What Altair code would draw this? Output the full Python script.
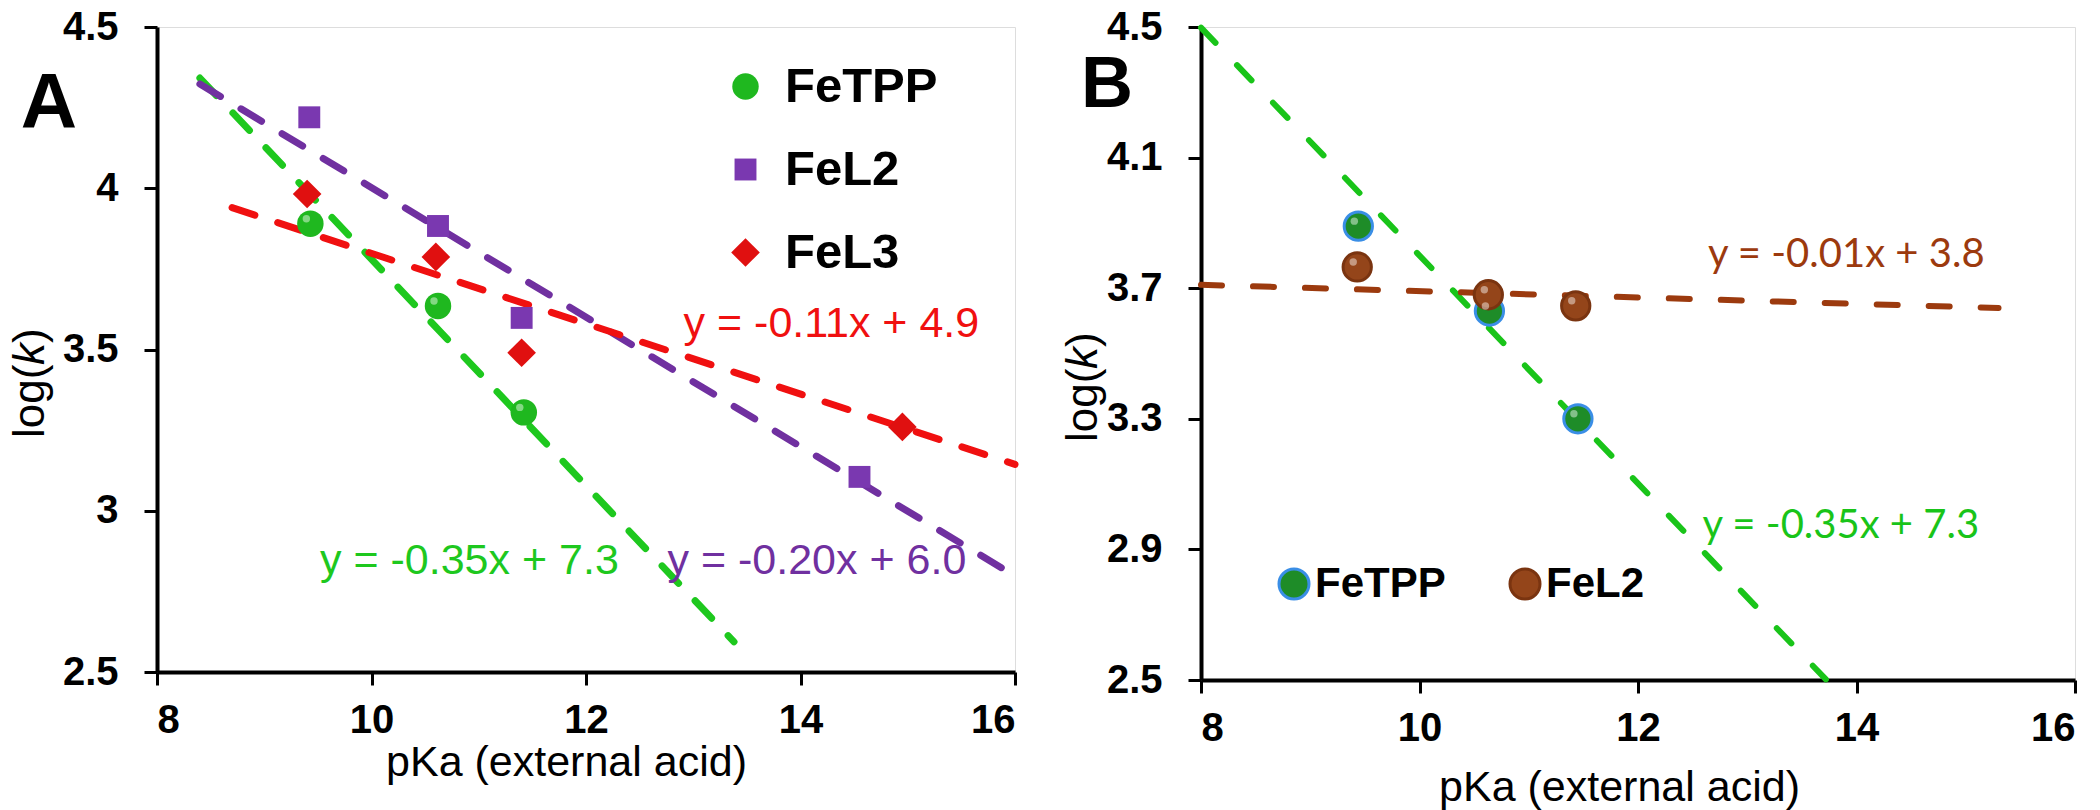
import altair as alt
import pandas as pd

# ---------------- Panel A data ----------------
a_series = ["FeTPP", "FeL2", "FeL3"]

fetpp_pka_a = [9.43, 10.62, 11.42]
fetpp_logk_a = [3.89, 3.635, 3.305]
fel2_pka_a = [9.42, 10.62, 11.40, 14.55]
fel2_logk_a = [4.22, 3.883, 3.598, 3.105]
fel3_pka_a = [9.40, 10.60, 11.40, 14.95]
fel3_logk_a = [3.982, 3.787, 3.49, 3.26]

# trend lines (slope, intercept, x range)
a_slope = [-0.351, -0.2007, -0.109]
a_intercept = [7.29, 6.009, 4.888]
a_from = [8.40, 8.40, 8.70]
a_to = [13.38, 15.95, 16.0]

a_eq_text = ["y = -0.35x + 7.3", "y = -0.20x + 6.0", "y = -0.11x + 4.9"]
a_eq_pka = [9.52, 12.76, 12.91]
a_eq_logk = [2.804, 2.804, 3.539]

# ---------------- Panel B data ----------------
b_series = ["FeTPP", "FeL2"]

fetpp_pka_b = [9.44, 10.64, 11.45]
fetpp_logk_b = [3.89, 3.63, 3.30]
fel2_pka_b = [9.43, 10.63, 11.43]
fel2_logk_b = [3.765, 3.68, 3.646]

b_slope = [-0.349, -0.0097]
b_intercept = [7.29, 3.788]
b_from = [8.0, 8.0]
b_to = [13.72, 15.3]

b_eq_text = ["y = -0.35x + 7.3", "y = -0.01x + 3.8"]
b_eq_pka = [12.59, 12.64]
b_eq_logk = [2.935, 3.765]

# ---------------- tables ----------------
pts_a = pd.concat([
    pd.DataFrame({"series": "FeTPP", "pKa": fetpp_pka_a, "logk": fetpp_logk_a}),
    pd.DataFrame({"series": "FeL2", "pKa": fel2_pka_a, "logk": fel2_logk_a}),
    pd.DataFrame({"series": "FeL3", "pKa": fel3_pka_a, "logk": fel3_logk_a}),
])
fits_a = pd.DataFrame({"series": a_series, "m": a_slope, "b": a_intercept,
                       "x1": a_from, "x2": a_to})
eq_a = pd.DataFrame({"series": a_series, "text": a_eq_text,
                     "pKa": a_eq_pka, "logk": a_eq_logk})

pts_b = pd.concat([
    pd.DataFrame({"series": "FeTPP", "pKa": fetpp_pka_b, "logk": fetpp_logk_b}),
    pd.DataFrame({"series": "FeL2", "pKa": fel2_pka_b, "logk": fel2_logk_b}),
])
fits_b = pd.DataFrame({"series": b_series, "m": b_slope, "b": b_intercept,
                       "x1": b_from, "x2": b_to})
eq_b = pd.DataFrame({"series": b_series, "text": b_eq_text,
                     "pKa": b_eq_pka, "logk": b_eq_logk})

ARIAL = "Liberation Sans"


def x_axis(title_x, title_y):
    return alt.Axis(values=[8, 10, 12, 14, 16], format="d", grid=False,
                    domainColor="black", domainWidth=4, tickColor="black",
                    tickWidth=3, tickSize=13, labelFont=ARIAL, labelFontWeight="bold",
                    labelFontSize=40, labelColor="black", labelPadding=15,
                    title="pKa (external acid)", titleFont=ARIAL,
                    titleFontWeight="normal", titleFontSize=43, titleColor="black",
                    titleX=title_x, titleY=title_y, titleBaseline="alphabetic")


def y_axis(values, fmt):
    return alt.Axis(values=values, format=fmt, grid=False, domainColor="black",
                    domainWidth=4, tickColor="black", tickWidth=3, tickSize=13,
                    labelFont=ARIAL, labelFontWeight="bold", labelFontSize=40,
                    labelColor="black", labelPadding=26, title=None)


def ylabel(left, bottom):
    # log(k) with italic k, written bottom-to-top
    parts = []
    for txt, off, style in [("log(", 0, "normal"), ("k", 73, "italic"), (")", 95, "normal")]:
        parts.append(
            alt.Chart(pd.DataFrame({"t": [txt]})).mark_text(
                font=ARIAL, fontSize=44, fontStyle=style, angle=270,
                align="left", baseline="middle", color="black"
            ).encode(text="t:N", x=alt.value(left), y=alt.value(bottom - off))
        )
    return parts


def letter(txt, x, y, size):
    return alt.Chart(pd.DataFrame({"t": [txt]})).mark_text(
        font=ARIAL, fontSize=size, fontWeight="bold", align="center",
        baseline="alphabetic", color="black"
    ).encode(text="t:N", x=alt.value(x), y=alt.value(y))


def fit_layers(fits, eqs, series, colors, xs, ys, xaxis, yaxis, width, dash, font, fsize):
    layers = []
    for s, col in zip(series, colors):
        layers.append(
            alt.Chart(fits).transform_filter(alt.datum.series == s).transform_calculate(
                y1="datum.m * datum.x1 + datum.b", y2="datum.m * datum.x2 + datum.b"
            ).mark_rule(strokeWidth=width, strokeDash=dash, strokeCap="round",
                        color=col).encode(
                x=alt.X("x1:Q", scale=xs, axis=xaxis),
                x2="x2:Q",
                y=alt.Y("y1:Q", scale=ys, axis=yaxis),
                y2="y2:Q",
            )
        )
    for s, col in zip(series, colors):
        layers.append(
            alt.Chart(eqs).transform_filter(alt.datum.series == s).mark_text(
                font=font, fontSize=fsize, align="left", baseline="alphabetic",
                color=col
            ).encode(x=alt.X("pKa:Q", scale=xs), y=alt.Y("logk:Q", scale=ys),
                     text="text:N")
        )
    return layers


def shine(data, keep, xs, ys):
    # small light spot that gives the round markers a sphere look
    return alt.Chart(data).transform_filter(
        alt.FieldOneOfPredicate(field="series", oneOf=keep)
    ).mark_point(filled=True, shape="circle", size=55, color="white", opacity=0.45,
                 xOffset=-4, yOffset=-5).encode(
        x=alt.X("pKa:Q", scale=xs), y=alt.Y("logk:Q", scale=ys)
    )


# ---------------- Panel A ----------------
xa = alt.Scale(domain=[8, 16], nice=False, zero=False)
ya = alt.Scale(domain=[2.5, 4.5], nice=False, zero=False)

leg_a = alt.Legend(orient="none", legendX=564, legendY=35, title=None,
                   direction="vertical", padding=0,
                   labelFont=ARIAL, labelFontWeight="bold",
                   labelFontSize=49, labelColor="black",
                   labelOffset=15, rowPadding=33, symbolStrokeWidth=0)

pts_a_chart = alt.Chart(pts_a).mark_point(filled=True, opacity=1).encode(
    x=alt.X("pKa:Q", scale=xa),
    y=alt.Y("logk:Q", scale=ya),
    fill=alt.Fill("series:N",
                  scale=alt.Scale(domain=a_series, range=["#1fb81f", "#7a38b0", "#e01010"]),
                  legend=leg_a),
    shape=alt.Shape("series:N",
                    scale=alt.Scale(domain=a_series, range=["circle", "square", "diamond"]),
                    legend=leg_a),
    size=alt.Size("series:N",
                  scale=alt.Scale(type="ordinal", domain=a_series, range=[700, 480, 820]),
                  legend=leg_a),
)

chart_a = alt.layer(
    *fit_layers(fits_a, eq_a, a_series, ["#1ec81e", "#7030a0", "#f01010"], xa, ya,
                x_axis(409, 103), y_axis([2.5, 3, 3.5, 4, 4.5], "~g"),
                7, [24, 24], ARIAL, 43),
    pts_a_chart,
    shine(pts_a, ["FeTPP"], xa, ya),
    *ylabel(-126, 411),
    letter("A", -108, 101, 78),
).properties(width=858, height=645)

# ---------------- Panel B ----------------
xb = alt.Scale(domain=[8, 16], nice=False, zero=False)
yb = alt.Scale(domain=[2.5, 4.5], nice=False, zero=False)

leg_b = alt.Legend(orient="none", legendX=72, legendY=536, title=None,
                   direction="horizontal", columns=2, padding=0,
                   labelFont=ARIAL, labelFontWeight="bold", labelFontSize=42,
                   labelColor="black", labelOffset=0, columnPadding=58,
                   symbolSize=900, symbolStrokeWidth=3)

pts_b_chart = alt.Chart(pts_b).mark_point(filled=True, opacity=1, size=800,
                                          strokeWidth=3).encode(
    x=alt.X("pKa:Q", scale=xb),
    y=alt.Y("logk:Q", scale=yb),
    fill=alt.Fill("series:N",
                  scale=alt.Scale(domain=b_series, range=["#1e8c28", "#94451a"]),
                  legend=leg_b),
    stroke=alt.Stroke("series:N",
                      scale=alt.Scale(domain=b_series, range=["#3a8ee6", "#7a3410"]),
                      legend=leg_b),
)

chart_b = alt.layer(
    *fit_layers(fits_b, eq_b, b_series, ["#19c419", "#9c3a0e"], xb, yb,
                x_axis(418, 120), y_axis([2.5, 2.9, 3.3, 3.7, 4.1, 4.5], ".1f"),
                6, [21, 31], "Lato", 40),
    pts_b_chart,
    shine(pts_b, b_series, xb, yb),
    *ylabel(-117, 415),
    letter("B", -94, 80, 72),
).properties(width=874, height=653)

chart = alt.hconcat(
    chart_a, chart_b, spacing=42,
    padding={"left": 0, "top": -2, "right": 0, "bottom": 0}
).resolve_scale(
    fill="independent", stroke="independent", shape="independent",
    size="independent", x="independent", y="independent"
).configure_view(stroke="black", strokeWidth=4).configure(background="white")

chart.save("out.html", embed_options={"renderer": "svg", "actions": False})
